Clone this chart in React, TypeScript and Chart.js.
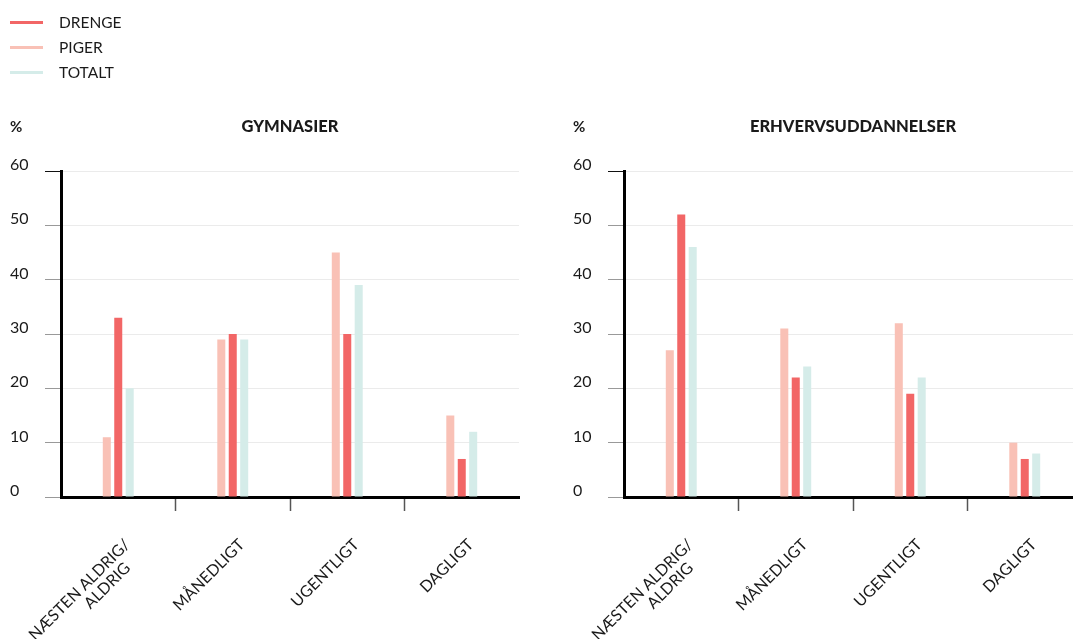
import React, { useEffect, useRef } from 'react';
import { Chart, registerables } from 'chart.js';

Chart.register(...registerables);

// ---------- data ----------
const categories: (string | string[])[] = [
  ['NÆSTEN ALDRIG/', 'ALDRIG' + ' '.repeat(4)],
  'MÅNEDLIGT',
  'UGENTLIGT',
  'DAGLIGT',
];
const seriesNames = ['DRENGE', 'PIGER', 'TOTALT'];
const gymDrenge = [33, 30, 30, 7];
const gymPiger = [11, 29, 45, 15];
const gymTotalt = [20, 29, 39, 12];
const erhDrenge = [52, 22, 19, 7];
const erhPiger = [27, 31, 32, 10];
const erhTotalt = [46, 24, 22, 8];
const yTicks = [0, 10, 20, 30, 40, 50, 60];
const titles = ['GYMNASIER', 'ERHVERVSUDDANNELSER'];
const unitLabel = '%';

// ---------- style ----------
const COLORS: Record<string, string> = {
  DRENGE: '#f26666',
  PIGER: '#f9c1b6',
  TOTALT: '#d5ece9',
};
const FONT = 'Lato, "Open Sans", sans-serif';
const TEXT = '#1a1a1a';

const headerPlugin = {
  id: 'header',
  afterDraw(chart: any, _args: any, opts: any) {
    const { ctx, chartArea } = chart;
    ctx.save();
    ctx.fillStyle = TEXT;
    ctx.textBaseline = 'middle';
    ctx.font = `900 16.5px ${FONT}`;
    ctx.textAlign = 'center';
    ctx.fillText(opts.title, (chartArea.left + chartArea.right) / 2, chartArea.top - 44);
    ctx.font = `bold 15px ${FONT}`;
    ctx.textAlign = 'left';
    ctx.fillText(opts.unit, 10, chartArea.top - 44);
    ctx.restore();
  },
};

function makeConfig(title: string, drenge: number[], piger: number[], totalt: number[]): any {
  const byName: Record<string, number[]> = { DRENGE: drenge, PIGER: piger, TOTALT: totalt };
  const order = ['PIGER', 'DRENGE', 'TOTALT'];
  return {
    type: 'bar',
    data: {
      labels: categories,
      datasets: order.map((n) => ({
        label: n,
        data: byName[n],
        backgroundColor: COLORS[n],
        borderWidth: 0,
        categoryPercentage: 0.3,
        barPercentage: 0.7,
      })),
    },
    plugins: [headerPlugin],
    options: {
      responsive: false,
      animation: false,
      layout: { padding: { left: 10, right: 21, top: 171, bottom: 0 } },
      plugins: {
        legend: { display: false },
        tooltip: { enabled: false },
        header: { title, unit: unitLabel },
      },
      scales: {
        x: {
          afterFit(scale: any) {
            scale.height = 142;
            scale.paddingLeft = 0;
            scale.paddingRight = 0;
          },
          grid: {
            offset: true,
            drawOnChartArea: false,
            drawTicks: true,
            tickLength: 14,
            tickWidth: 1.5,
            tickColor: (c: any) => (c.type === 'tick' && c.index > 0 ? '#555' : 'rgba(0,0,0,0)'),
          },
          border: { display: true, color: '#000', width: 3 },
          ticks: {
            minRotation: 45,
            maxRotation: 45,
            autoSkip: false,
            padding: 25,
            labelOffset: 9,
            color: TEXT,
            font: { family: FONT, size: 16, lineHeight: 1.05 },
          },
        },
        y: {
          min: 0,
          max: 60,
          afterBuildTicks(scale: any) {
            scale.ticks = yTicks.map((v) => ({ value: v }));
          },
          afterFit(scale: any) {
            scale.width = 51;
          },
          grid: {
            color: '#ebebeb',
            lineWidth: 1,
            drawTicks: true,
            tickLength: 16,
            tickColor: (c: any) => (c.tick && c.tick.value === 60 ? '#111' : '#999'),
          },
          border: { display: true, color: '#000', width: 3 },
          ticks: {
            padding: 8,
            crossAlign: 'far',
            labelOffset: -6,
            color: TEXT,
            font: { family: FONT, size: 16 },
          },
        },
      },
    },
  };
}

function BarChart({ left, title, drenge, piger, totalt }: any) {
  const ref = useRef<HTMLCanvasElement>(null);
  useEffect(() => {
    if (!ref.current) return;
    const chart = new Chart(ref.current, makeConfig(title, drenge, piger, totalt));
    return () => chart.destroy();
  }, []);
  return (
    <canvas
      ref={ref}
      width={540}
      height={639}
      style={{ position: 'absolute', left, top: 0, width: 540, height: 639 }}
    />
  );
}

function Legend() {
  return (
    <div style={{ position: 'absolute', left: 10, top: 9.5, fontFamily: FONT, fontSize: 15.5, color: TEXT }}>
      {seriesNames.map((n) => (
        <div key={n} style={{ display: 'flex', alignItems: 'center', height: 25 }}>
          <div style={{ width: 33, height: 3, background: COLORS[n], marginRight: 16 }} />
          <span style={{ lineHeight: '25px' }}>{n}</span>
        </div>
      ))}
    </div>
  );
}

export default function App() {
  return (
    <div
      style={{
        position: 'fixed',
        left: 0,
        top: 0,
        width: 1073,
        height: 639,
        overflow: 'hidden',
        background: '#fff',
      }}
    >
      <BarChart left={0} title={titles[0]} drenge={gymDrenge} piger={gymPiger} totalt={gymTotalt} />
      <BarChart left={563} title={titles[1]} drenge={erhDrenge} piger={erhPiger} totalt={erhTotalt} />
      <Legend />
    </div>
  );
}
